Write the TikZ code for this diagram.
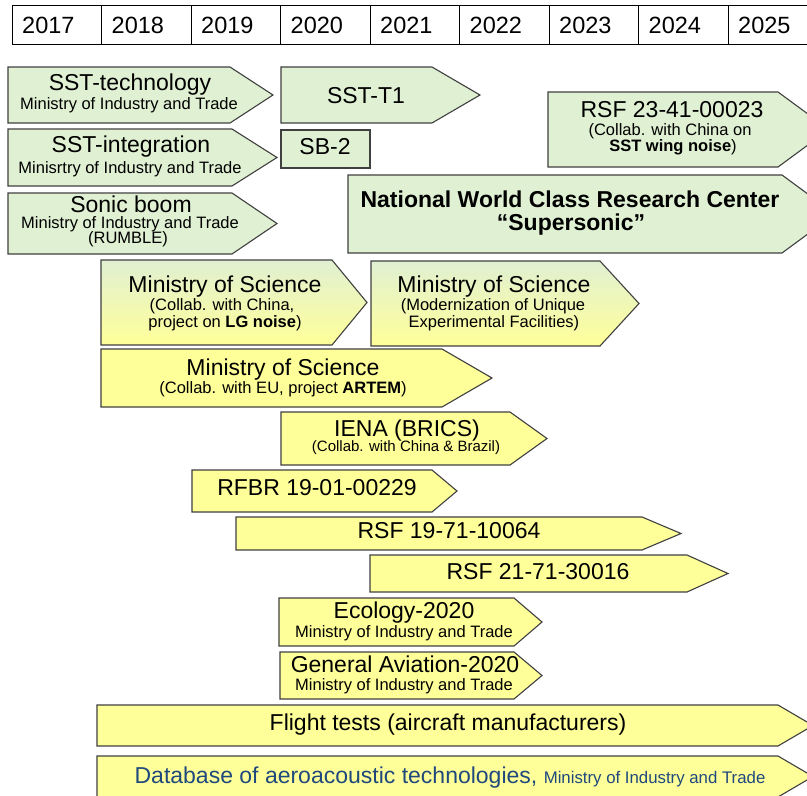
\documentclass[tikz,border=0pt]{standalone}
\usepackage{fontspec}
\setmainfont{Liberation Sans}
\definecolor{boxgreen}{RGB}{224,240,210}
\definecolor{boxyellow}{RGB}{255,255,153}
\definecolor{boxedge}{RGB}{64,64,64}
\definecolor{dbblue}{RGB}{31,73,125}
\newcommand{\bigf}{\fontsize{23}{24}\selectfont}
\newcommand{\smallf}{\fontsize{16.5}{17}\selectfont}

\begin{document}
\begin{tikzpicture}[x=1pt,y=-1pt,
  grn/.style={draw=boxedge,line width=1.1pt,fill=boxgreen},
  ylw/.style={draw=boxedge,line width=1.1pt,fill=boxyellow},
  mix/.style={draw=boxedge,line width=1.1pt,top color=boxgreen,bottom color=boxyellow},
  big/.style={font=\bigf,anchor=base,inner sep=0pt},
  sml/.style={font=\smallf,anchor=base,inner sep=0pt}]
 \fill[white](0,0) rectangle (807,796);
 \useasboundingbox (0,0) rectangle (807,796);
 \draw[line width=0.8pt](12,5) rectangle (818,44);
 \foreach \i in {1,...,8} \draw[line width=0.8pt]({12+89.5*\i},5)--({12+89.5*\i},44);
 \foreach \yr [count=\i from 0] in {2017,...,2025}
   \node[big,anchor=base west,font=\fontsize{23.5}{24}\selectfont] (yr\yr) at ({22+89.5*\i},33) {\yr};
 \draw[grn](8,67)--(230,67)--(273,95)--(230,123)--(8,123)--cycle;
 \draw[grn](281,67)--(432,67)--(480,95)--(432,123)--(281,123)--cycle;
 \draw[grn](8,129)--(232,129)--(277,157.5)--(232,186)--(8,186)--cycle;
 \draw[grn](281,130) rectangle (370,168);
 \draw[grn](8,193)--(232,193)--(277,223.5)--(232,254)--(8,254)--cycle;
 \draw[grn](548,92)--(778,92)--(829,129.5)--(778,167)--(548,167)--cycle;
 \draw[grn](348,175)--(782,175)--(835,214)--(782,253)--(348,253)--cycle;
 \draw[mix](101,260)--(332,260)--(367,302.5)--(332,345)--(101,345)--cycle;
 \draw[mix](371,261)--(600,261)--(639,303.5)--(600,346)--(371,346)--cycle;
 \draw[ylw](101,349)--(442,349)--(492,378)--(442,407)--(101,407)--cycle;
 \draw[ylw](281,412)--(510,412)--(547,438.5)--(510,465)--(281,465)--cycle;
 \draw[ylw](192,470)--(432,470)--(457,491)--(432,512)--(192,512)--cycle;
 \draw[ylw](236,517)--(642,517)--(681,533.5)--(642,550)--(236,550)--cycle;
 \draw[ylw](370,555)--(687,555)--(728,573.5)--(687,592)--(370,592)--cycle;
 \draw[ylw](279,598)--(514,598)--(542,622)--(514,646)--(279,646)--cycle;
 \draw[ylw](280,652)--(514,652)--(542,675.5)--(514,699)--(280,699)--cycle;
 \draw[ylw](97,705)--(778,705)--(813,725.5)--(778,746)--(97,746)--cycle;
 \draw[ylw](97,756)--(778,756)--(813,776.5)--(778,797)--(97,797)--cycle;
 \node[big](sstTech) at (130,90) {SST-technology};
 \node[sml](sstTechMin) at (129,109) {Ministry of Industry and Trade};
 \node[big](sstT1) at (366,103) {SST-T1};
 \node[big](sstInt) at (131,152) {SST-integration};
 \node[sml](sstIntMin) at (130,173) {Minisrtry of Industry and Trade};
 \node[big](sb2) at (325,154) {SB-2};
 \node[big](boom) at (131,212) {Sonic boom};
 \node[sml](boomMin) at (130,228) {Ministry of Industry and Trade};
 \node[sml](boomRum) at (128,243) {(RUMBLE)};
 \node[big](rsf23) at (672,117) {RSF 23-41-00023};
 \node[sml](rsf23a) at (670,135) {(Collab. with China on};
 \node[sml](rsf23b) at (673,151) {\textbf{SST wing noise})};
 \node[big,font=\bigf\bfseries](nwc) at (570,207) {National World Class Research Center};
 \node[big,font=\bigf\bfseries](nwcName) at (571,230) {“Supersonic”};
 \node[big](mosLG) at (225,292) {Ministry of Science};
 \node[sml](mosLGa) at (222,310) {(Collab. with China,};
 \node[sml](mosLGb) at (225,327) {project on \textbf{LG noise})};
 \node[big](mosMod) at (494,292) {Ministry of Science};
 \node[sml](mosModa) at (493,310) {(Modernization of Unique};
 \node[sml](mosModb) at (494,327) {Experimental Facilities)};
 \node[big](mosEU) at (283,375) {Ministry of Science};
 \node[sml](mosEUa) at (283,393) {(Collab. with EU, project \textbf{ARTEM})};
 \node[big](iena) at (407,436) {IENA (BRICS)};
 \node[sml,font=\fontsize{15}{15}\selectfont](ienaSub) at (406,451) {(Collab. with China \& Brazil)};
 \node[big](rfbr) at (317,495) {RFBR 19-01-00229};
 \node[big](rsf19) at (449,538) {RSF 19-71-10064};
 \node[big](rsf21) at (538,579) {RSF 21-71-30016};
 \node[big](eco) at (404,618) {Ecology-2020};
 \node[sml](ecoMin) at (404,637) {Ministry of Industry and Trade};
 \node[big](ga) at (405,672) {General Aviation-2020};
 \node[sml](gaMin) at (404,690) {Ministry of Industry and Trade};
 \node[big](flight) at (448,730) {Flight tests (aircraft manufacturers)};
 \node[big,text=dbblue](dbase) at (450,783) {{\fontsize{23}{24}\selectfont Database of aeroacoustic technologies,} {\fontsize{16.8}{17}\selectfont Ministry of Industry and Trade}};
\end{tikzpicture}
\end{document}
